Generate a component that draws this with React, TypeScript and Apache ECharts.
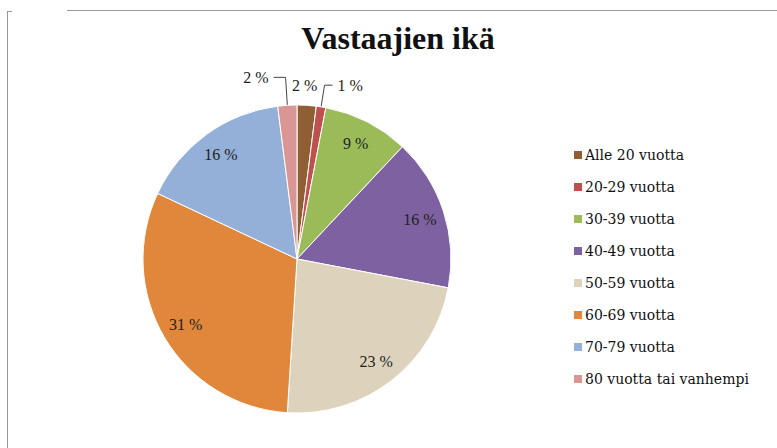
import React, { useEffect, useRef } from "react";
import * as echarts from "echarts";

const titleText = "Vastaajien ikä";
const categories = [
  "Alle 20 vuotta",
  "20-29 vuotta",
  "30-39 vuotta",
  "40-49 vuotta",
  "50-59 vuotta",
  "60-69 vuotta",
  "70-79 vuotta",
  "80 vuotta tai vanhempi",
];
const values = [2, 1, 9, 16, 23, 31, 16, 2];
const colors = ["#8f5f33", "#c0504d", "#9bbb59", "#7e61a0", "#ddd3bd", "#e0873c", "#94afd8", "#d99694"];
const smallSlices = [true, true, false, false, false, false, false, true];

const TITLE_FONT = "Liberation Serif";
const LEGEND_FONT = "DejaVu Serif";
const LABEL_FONT = "Liberation Serif";

export default function App() {
  const ref = useRef<HTMLDivElement>(null);
  useEffect(() => {
    if (!ref.current) return;
    const chart = echarts.init(ref.current, null, { renderer: "svg" });
    const center = [297, 259];
    const R = 154;
    chart.setOption({
      animation: false,
      backgroundColor: "#ffffff",
      title: {
        text: titleText,
        left: 393,
        top: 17,
        textAlign: "center",
        textStyle: { fontFamily: TITLE_FONT, fontSize: 32, fontWeight: "bold", color: "#111" },
      },
      legend: {
        orient: "vertical",
        left: 567,
        top: 143,
        itemWidth: 10,
        itemHeight: 10,
        itemGap: 18,
        icon: "rect",
        data: categories,
        textStyle: { fontFamily: LEGEND_FONT, fontSize: 14, color: "#111", padding: [0, 0, 0, -3] },
      },
      graphic: [
        { type: "line", shape: { x1: 7.5, y1: 11, x2: 7.5, y2: 448 }, style: { stroke: "#999", lineWidth: 1 } },
        { type: "line", shape: { x1: 7, y1: 11.5, x2: 12, y2: 11.5 }, style: { stroke: "#999", lineWidth: 1 } },
        { type: "line", shape: { x1: 67, y1: 10.5, x2: 777, y2: 10.5 }, style: { stroke: "#999", lineWidth: 1 } },
      ],
      series: [
        {
          type: "pie",
          center,
          radius: [0, R],
          startAngle: 90,
          clockwise: true,
          avoidLabelOverlap: false,
          labelLayout: (p: any) => (p.dataIndex === 0 ? { dx: -20, dy: -14 } : {}),
          data: categories.map((name, i) => ({
            name,
            value: values[i],
            itemStyle: { color: colors[i] },
            label: { show: smallSlices[i] },
            labelLine:
              i === 0
                ? { show: true, length: 6, length2: 0, lineStyle: { color: "rgba(0,0,0,0)" } }
                : i === 1
                ? { show: true, length: 22, length2: 8 }
                : { show: smallSlices[i], length: 28, length2: 12 },
          })),
          itemStyle: { borderColor: "#ffffff", borderWidth: 1 },
          label: {
            position: "outside",
            formatter: (p: any) => p.value + " %",
            fontFamily: LABEL_FONT,
            fontSize: 16,
            color: "#222",
          },
          labelLine: { lineStyle: { color: "#444", width: 1 } },
          emphasis: { disabled: true },
        },
        {
          type: "pie",
          center,
          radius: [R * 0.64, R],
          startAngle: 90,
          clockwise: true,
          silent: true,
          legendHoverLink: false,
          data: categories.map((name, i) => ({
            name,
            value: values[i],
            itemStyle: { color: "rgba(0,0,0,0)" },
            label: { show: !smallSlices[i] },
          })),
          label: {
            position: "inside",
            formatter: (p: any) => p.value + " %",
            fontFamily: LABEL_FONT,
            fontSize: 16,
            color: "#222",
          },
          labelLine: { show: false },
          emphasis: { disabled: true },
          tooltip: { show: false },
        },
      ],
    });
    return () => chart.dispose();
  }, []);
  return <div ref={ref} style={{ position: "absolute", left: 0, top: 0, width: 777, height: 448 }} />;
}
